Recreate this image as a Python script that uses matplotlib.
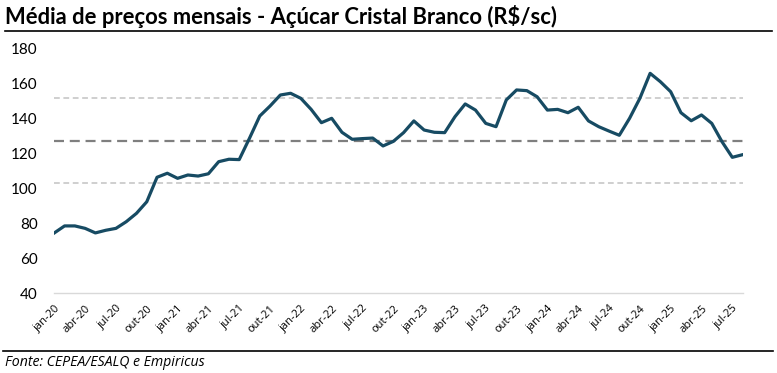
import numpy as np
import matplotlib
matplotlib.use("Agg")
import matplotlib.pyplot as plt
from matplotlib.lines import Line2D

# preços mensais (R$/sc), jan-20 a ago-25
precos = [74.5, 78.5, 78.5, 77.1, 74.5, 76.0, 77.1, 80.9, 85.7, 92.3,
          106.3, 108.6, 105.7, 107.6, 107.0, 108.3, 115.2, 116.6, 116.4, 128.6,
          141.3, 147.0, 153.3, 154.3, 151.4, 145.1, 137.5, 140.0, 132.0, 128.0,
          128.4, 128.7, 124.2, 126.8, 131.8, 138.5, 133.3, 132.0, 131.8, 140.9,
          148.2, 144.7, 137.1, 135.2, 150.5, 156.2, 155.8, 152.3, 144.7, 145.1,
          143.2, 146.3, 138.5, 135.2, 132.7, 130.3, 140.0, 151.4, 165.7, 160.9,
          155.2, 143.2, 138.6, 141.9, 137.1, 126.6, 117.7, 119.2]
meses_nome = ["jan", "fev", "mar", "abr", "mai", "jun",
              "jul", "ago", "set", "out", "nov", "dez"]
ano_inicial = 2020

meses = [f"{meses_nome[i % 12]}-{(ano_inicial + i // 12) % 100:02d}"
         for i in range(len(precos))]

plt.rcParams['font.family'] = ['Lato', 'DejaVu Sans']

fig = plt.figure(figsize=(7.77, 3.73), dpi=100)
ax = fig.add_axes([0.0699, 0.2137, 0.9557 - 0.0699, 0.8705 - 0.2137])

x = np.arange(len(precos))
media = np.mean(precos)
desvio = np.std(precos)

ax.axhline(media + desvio, color='#cccccc', lw=1.3, ls=(0, (3.2, 2.0)), zorder=1)
ax.axhline(media - desvio, color='#cccccc', lw=1.3, ls=(0, (3.2, 2.0)), zorder=1)
ax.axhline(media, color='#7f7f7f', lw=1.6, ls=(0, (4.5, 2.6)), zorder=1)
ax.plot(x, precos, color='#174b63', lw=2.3, solid_joinstyle='round', zorder=3)

ax.set_xlim(0, len(precos) - 1)
ax.set_ylim(40, 180)
ax.set_yticks(range(40, 181, 20))
ax.set_xticks(x[::3])
ax.set_xticklabels(meses[::3], rotation=45, ha='right', rotation_mode='anchor',
                   fontsize=8, family=['Open Sans', 'DejaVu Sans'])

for s in ['top', 'right', 'left']:
    ax.spines[s].set_visible(False)
ax.spines['bottom'].set_color('#d9d9d9')
ax.spines['bottom'].set_linewidth(1.0)
ax.tick_params(axis='y', length=0, pad=12, labelsize=11, colors='#000000')
ax.tick_params(axis='x', length=0, pad=7)

fig.text(5 / 777, 1 - 16 / 373, "Média de preços mensais - Açúcar Cristal Branco (R$/sc)",
         fontsize=15.8, fontweight='bold', va='center', ha='left')
fig.add_artist(Line2D([5 / 777, 772 / 777], [1 - 31 / 373, 1 - 31 / 373],
                      color='black', lw=1.2, transform=fig.transFigure))
fig.add_artist(Line2D([3 / 777, 773 / 777], [1 - 351 / 373, 1 - 351 / 373],
                      color='black', lw=1.2, transform=fig.transFigure))
fig.text(5 / 777, 1 - 362 / 373, "Fonte: CEPEA/ESALQ e Empiricus",
         fontsize=10.2, fontstyle='italic', va='center', ha='left',
         family=['Open Sans', 'DejaVu Sans'])

fig.savefig("out.png", dpi=100)
